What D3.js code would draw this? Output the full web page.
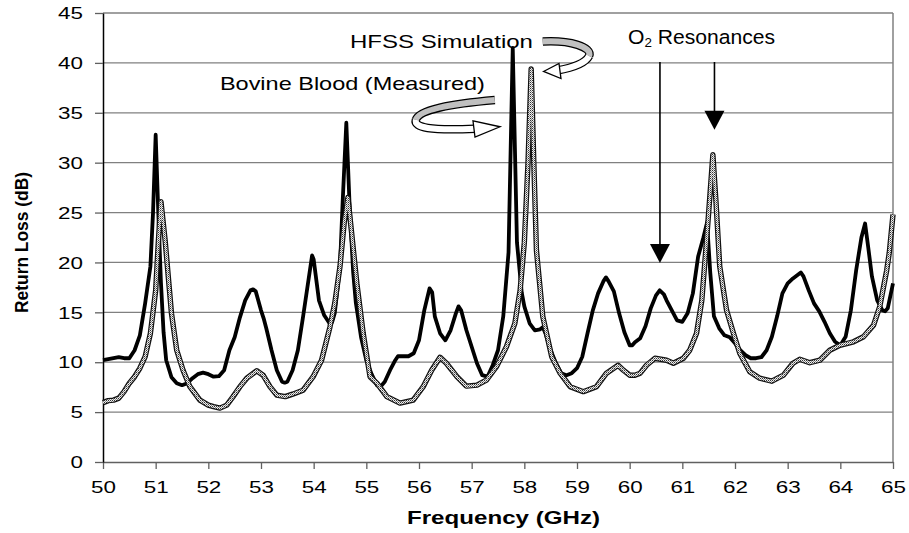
<!DOCTYPE html>
<html>
<head>
<meta charset="utf-8">
<script src="https://cdn.jsdelivr.net/npm/d3@7"></script>
<style>
  body { margin: 0; background: #fff; }
  text { font-family: 'Liberation Sans', Arial, sans-serif; fill: #000; }
</style>
</head>
<body>
<div id="chart"></div>
<script>
// Bovine blood (measured), return loss vs frequency
const measFreq = [50.0, 50.1, 50.2, 50.3, 50.4, 50.5, 50.6, 50.7, 50.8, 50.9, 50.95, 51.0, 51.05, 51.1, 51.15,
  51.2, 51.3, 51.4, 51.5, 51.6, 51.7, 51.8, 51.9, 52.0, 52.1, 52.2, 52.3, 52.4, 52.5, 52.6, 52.7, 52.8, 52.85,
  52.9, 53.0, 53.05, 53.1, 53.2, 53.3, 53.4, 53.45, 53.5, 53.6, 53.7, 53.8, 53.9, 53.97, 54.0, 54.1, 54.2, 54.3,
  54.35, 54.4, 54.5, 54.55, 54.62, 54.68, 54.75, 54.8, 54.9, 55.0, 55.1, 55.2, 55.26, 55.35, 55.45, 55.55, 55.6,
  55.7, 55.8, 55.9, 56.0, 56.1, 56.2, 56.25, 56.3, 56.4, 56.5, 56.6, 56.7, 56.75, 56.8, 56.9, 57.0, 57.1, 57.2,
  57.3, 57.4, 57.5, 57.6, 57.7, 57.78, 57.86, 57.95, 58.0, 58.1, 58.2, 58.3, 58.35, 58.4, 58.5, 58.6, 58.7, 58.8,
  58.9, 59.0, 59.1, 59.2, 59.3, 59.4, 59.5, 59.55, 59.6, 59.7, 59.8, 59.9, 60.0, 60.05, 60.1, 60.2, 60.3, 60.4,
  60.5, 60.57, 60.65, 60.7, 60.8, 60.9, 61.0, 61.1, 61.2, 61.3, 61.4, 61.47, 61.53, 61.6, 61.7, 61.8, 61.9, 62.0,
  62.1, 62.2, 62.3, 62.4, 62.5, 62.6, 62.7, 62.8, 62.9, 63.0, 63.1, 63.2, 63.25, 63.3, 63.4, 63.5, 63.6, 63.7,
  63.8, 63.9, 64.0, 64.1, 64.2, 64.3, 64.4, 64.47, 64.53, 64.6, 64.7, 64.8, 64.85, 64.9, 65.0]
const measLoss = [10.2, 10.3, 10.4, 10.5, 10.4, 10.4, 11.2, 12.7, 15.9, 19.6, 25, 32.8, 25, 18, 13,
  10.2, 8.5, 7.9, 7.7, 7.9, 8.4, 8.8, 8.95, 8.8, 8.55, 8.6, 9.2, 11.2, 12.5, 14.5, 16.2, 17.2, 17.3,
  17.1, 15.2, 14.4, 13.4, 11.2, 9.2, 8.05, 7.95, 8.05, 9.2, 11.2, 14.6, 18.2, 20.7, 20.3, 16.2, 14.7, 13.9,
  14.0, 14.9, 19.6, 26, 34, 26, 19, 16, 12.5, 10.2, 8.8, 7.7, 7.5, 8.05, 9.2, 10.2, 10.6,
  10.6, 10.6, 10.9, 12.2, 15.2, 17.4, 17.0, 14.6, 12.9, 12.2, 13.2, 14.9, 15.6, 15.2, 13.2, 11.55, 9.9, 8.7,
  8.55, 9.7, 11.2, 14.6, 21, 41.5, 22, 17, 15.6, 13.9, 13.2, 13.3, 13.5, 12.9, 11.2, 9.9, 8.9, 8.7,
  8.9, 9.4, 10.55, 12.9, 15.2, 16.9, 18.1, 18.5, 18.1, 17.1, 14.9, 13.0, 11.7, 11.7, 12.0, 12.4, 13.6, 15.4,
  16.7, 17.2, 16.8, 16.2, 15.2, 14.2, 14.05, 14.9, 16.9, 20.6, 22.5, 24.0, 19, 14.6, 13.4, 12.7, 12.5, 11.9,
  11.2, 10.7, 10.4, 10.4, 10.5, 11.2, 12.55, 14.6, 16.9, 17.9, 18.4, 18.8, 19.0, 18.6, 17.2, 15.9, 15.1, 14.05,
  12.9, 12.05, 11.7, 12.55, 15.2, 19.2, 22.5, 23.9, 21.5, 18.6, 16.2, 15.2, 15.1, 15.4, 17.9]

// HFSS simulation
const simFreq = [50.0, 50.1, 50.2, 50.3, 50.4, 50.5, 50.6, 50.7, 50.8, 50.9, 51.0, 51.05, 51.1, 51.18, 51.3,
  51.4, 51.46, 51.52, 51.65, 51.84, 52.0, 52.1, 52.22, 52.35, 52.47, 52.6, 52.73, 52.92, 53.04, 53.17, 53.3,
  53.46, 53.6, 53.8, 53.99, 54.15, 54.31, 54.4, 54.5, 54.58, 54.65, 54.72, 54.82, 54.94, 55.07, 55.2, 55.39,
  55.64, 55.89, 56.08, 56.24, 56.4, 56.52, 56.72, 56.9, 57.1, 57.28, 57.47, 57.66, 57.82, 57.92, 58.0, 58.07,
  58.13, 58.18, 58.23, 58.35, 58.52, 58.68, 58.87, 59.12, 59.37, 59.56, 59.78, 59.88, 60.0, 60.1, 60.2, 60.32,
  60.48, 60.7, 60.83, 61.02, 61.14, 61.27, 61.37, 61.43, 61.5, 61.58, 61.64, 61.71, 61.84, 61.97, 62.09, 62.28,
  62.47, 62.7, 62.92, 63.1, 63.23, 63.42, 63.61, 63.8, 63.99, 64.25, 64.44, 64.63, 64.75, 64.88, 64.93, 65.0]
const simLoss = [5.95, 6.15, 6.2, 6.4, 7.05, 7.9, 8.55, 9.4, 10.55, 12.9, 17.2, 22, 26.1, 22.2, 14.9,
  11.2, 10.2, 9.2, 7.55, 6.2, 5.7, 5.55, 5.4, 5.7, 6.55, 7.55, 8.4, 9.15, 8.7, 7.55, 6.7,
  6.55, 6.8, 7.2, 8.55, 10.2, 13.55, 15.9, 19.6, 24, 26.5, 23, 17.9, 12.9, 8.55, 7.9, 6.55,
  5.9, 6.2, 7.55, 9.2, 10.5, 9.9, 8.55, 7.6, 7.7, 8.2, 9.55, 11.55, 13.9, 17.2, 22, 30,
  39.4, 30, 21.2, 14.6, 10.55, 8.9, 7.55, 7.05, 7.55, 8.9, 9.7, 9.2, 8.7, 8.7, 8.9, 9.7,
  10.4, 10.2, 9.9, 10.4, 11.2, 12.9, 16.2, 20.2, 25, 30.8, 26, 19.6, 15.2, 12.9, 10.9, 9.05,
  8.4, 8.1, 8.7, 9.9, 10.3, 9.95, 10.2, 11.2, 11.7, 12.05, 12.55, 13.7, 15.6, 19.2, 21.0, 24.8]

const xTicks = d3.range(50, 66, 1)
const yTicks = d3.range(0, 46, 5)

// O2 resonance arrows: frequency, arrow tip (dB)
const o2Freq = [60.575, 61.61]
const o2Tip = [19.95, 33.3]

const width = 909, height = 533
const margin = {top: 13, right: 16, bottom: 71, left: 103}

const x = d3.scaleLinear().domain([50, 65]).range([margin.left, width - margin.right])
const y = d3.scaleLinear().domain([0, 45]).range([height - margin.bottom, margin.top])

const svg = d3.select('#chart').append('svg')
  .attr('width', width)
  .attr('height', height)

// checker pattern for the hatched simulation trace
const pat = svg.append('defs').append('pattern')
  .attr('id', 'checker')
  .attr('patternUnits', 'userSpaceOnUse')
  .attr('width', 2).attr('height', 2)
pat.append('rect').attr('width', 2).attr('height', 2).attr('fill', '#eee')
pat.append('rect').attr('width', 1).attr('height', 1).attr('fill', '#333')
pat.append('rect').attr('x', 1).attr('y', 1).attr('width', 1).attr('height', 1).attr('fill', '#888')

// grid
svg.append('g').selectAll('line')
  .data(yTicks.filter(d => d > 0))
  .enter().append('line')
  .attr('x1', x(50)).attr('x2', x(65))
  .attr('y1', d => y(d)).attr('y2', d => y(d))
  .attr('stroke', '#808080').attr('stroke-width', 1.3)

// right border
svg.append('line')
  .attr('x1', x(65)).attr('x2', x(65))
  .attr('y1', y(0)).attr('y2', y(45))
  .attr('stroke', '#808080').attr('stroke-width', 1.5)

// axes
const xAxis = svg.append('g')
  .attr('transform', `translate(0,${y(0)})`)
  .call(d3.axisBottom(x).tickValues(xTicks).tickSize(7).tickSizeOuter(0))
xAxis.select('.domain').attr('stroke', '#606060').attr('stroke-width', 1.5)
xAxis.selectAll('.tick line').attr('stroke', '#606060').attr('stroke-width', 1.3)
xAxis.selectAll('.tick text')
  .attr('y', 31).attr('dy', 0)
  .attr('font-size', 16)
  .attr('font-family', "'Liberation Sans', Arial, sans-serif")
  .attr('transform', 'scale(1.4,1)')

const yAxis = svg.append('g')
  .attr('transform', `translate(${x(50)},0)`)
  .call(d3.axisLeft(y).tickValues(yTicks).tickSize(8).tickSizeOuter(0))
yAxis.select('.domain').attr('stroke', '#000').attr('stroke-width', 1.5)
yAxis.selectAll('.tick line').attr('stroke', '#606060').attr('stroke-width', 1.3)
yAxis.selectAll('.tick text')
  .attr('x', -20 / 1.4).attr('dy', '0.36em')
  .attr('font-size', 16)
  .attr('font-family', "'Liberation Sans', Arial, sans-serif")
  .attr('transform', 'scale(1.4,1)')

// axis titles
svg.append('text')
  .attr('x', 407).attr('y', 524)
  .attr('font-size', 18).attr('font-weight', 'bold')
  .attr('textLength', 193).attr('lengthAdjust', 'spacingAndGlyphs')
  .text('Frequency (GHz)')

svg.append('text')
  .attr('transform', 'translate(27.5,242.5) rotate(-90)')
  .attr('text-anchor', 'middle')
  .attr('font-size', 19).attr('font-weight', 'bold')
  .attr('textLength', 141).attr('lengthAdjust', 'spacingAndGlyphs')
  .text('Return Loss (dB)')

// traces
const line = (fs, ls) => d3.line()
  .x((d, i) => x(fs[i]))
  .y(d => y(d))(ls)

svg.append('path')
  .attr('d', line(measFreq, measLoss))
  .attr('fill', 'none').attr('stroke', '#000')
  .attr('stroke-width', 3.8).attr('stroke-linejoin', 'round')

svg.append('path')
  .attr('d', line(simFreq, simLoss))
  .attr('fill', 'none').attr('stroke', '#111')
  .attr('stroke-width', 5.4).attr('stroke-linejoin', 'round')
svg.append('path')
  .attr('d', line(simFreq, simLoss))
  .attr('fill', 'none').attr('stroke', 'url(#checker)')
  .attr('stroke-width', 3).attr('stroke-linejoin', 'round')

// annotations
const P = (f, db) => x(f) + ',' + y(db)

function curlArrow (grayD, whiteD, head) {
  const g = svg.append('g')
  g.append('path').attr('d', grayD).attr('fill', 'none').attr('stroke', '#000').attr('stroke-width', 8.5)
  g.append('path').attr('d', whiteD).attr('fill', 'none').attr('stroke', '#000').attr('stroke-width', 8.5)
  g.append('path').attr('d', grayD).attr('fill', 'none').attr('stroke', '#c0c0c0').attr('stroke-width', 6)
  g.append('path').attr('d', whiteD).attr('fill', 'none').attr('stroke', '#fff').attr('stroke-width', 6)
  g.append('path').attr('d', head).attr('fill', '#fff').attr('stroke', '#000').attr('stroke-width', 1.3)
}

// HFSS curl
curlArrow(
  `M${P(58.35, 42.14)} C${P(58.87, 42.29)} ${P(59.3, 41.59)} ${P(59.23, 40.69)}`,
  `M${P(59.23, 40.69)} C${P(59.15, 39.89)} ${P(58.9, 39.49)} ${P(58.62, 39.24)}`,
  `M${P(58.364, 39.14)} L${P(58.658, 39.94)} L${P(58.696, 38.43)} Z`
)
// Measured curl
curlArrow(
  `M${P(57.44, 36.28)} C${P(56.6, 35.9)} ${P(56.0, 35.3)} ${P(55.94, 34.3)}`,
  `M${P(55.94, 34.3)} C${P(55.9, 33.5)} ${P(56.21, 33.2)} ${P(57.06, 33.4)}`,
  `M${P(57.538, 33.6)} L${P(57.025, 34.2)} L${P(57.063, 32.57)} Z`
)

svg.append('text')
  .attr('x', x(54.69)).attr('y', y(41.54))
  .attr('font-size', 19)
  .attr('textLength', 183).attr('lengthAdjust', 'spacingAndGlyphs')
  .text('HFSS Simulation')

svg.append('text')
  .attr('x', x(52.22)).attr('y', y(37.28))
  .attr('font-size', 19)
  .attr('textLength', 265).attr('lengthAdjust', 'spacingAndGlyphs')
  .text('Bovine Blood (Measured)')

const o2 = svg.append('text')
  .attr('x', x(59.97)).attr('y', y(41.89))
  .attr('font-size', 20.5)
  .attr('textLength', 147).attr('lengthAdjust', 'spacingAndGlyphs')
o2.append('tspan').text('O')
o2.append('tspan').attr('font-size', 13).attr('dy', 3).text('2')
o2.append('tspan').attr('dy', -3).text(' Resonances')

// O2 arrows
const o2g = svg.append('g').selectAll('g')
  .data(o2Freq)
  .enter().append('g')
o2g.append('line')
  .attr('x1', d => x(d)).attr('x2', d => x(d))
  .attr('y1', y(40.09)).attr('y2', (d, i) => y(o2Tip[i]) - 12)
  .attr('stroke', '#000').attr('stroke-width', 1.6)
o2g.append('path')
  .attr('d', (d, i) => {
    const tx = x(d), ty = y(o2Tip[i])
    return `M${tx},${ty} L${tx - 10},${ty - 19} L${tx + 10},${ty - 19} Z`
  })
  .attr('fill', '#000')
</script>
</body>
</html>
